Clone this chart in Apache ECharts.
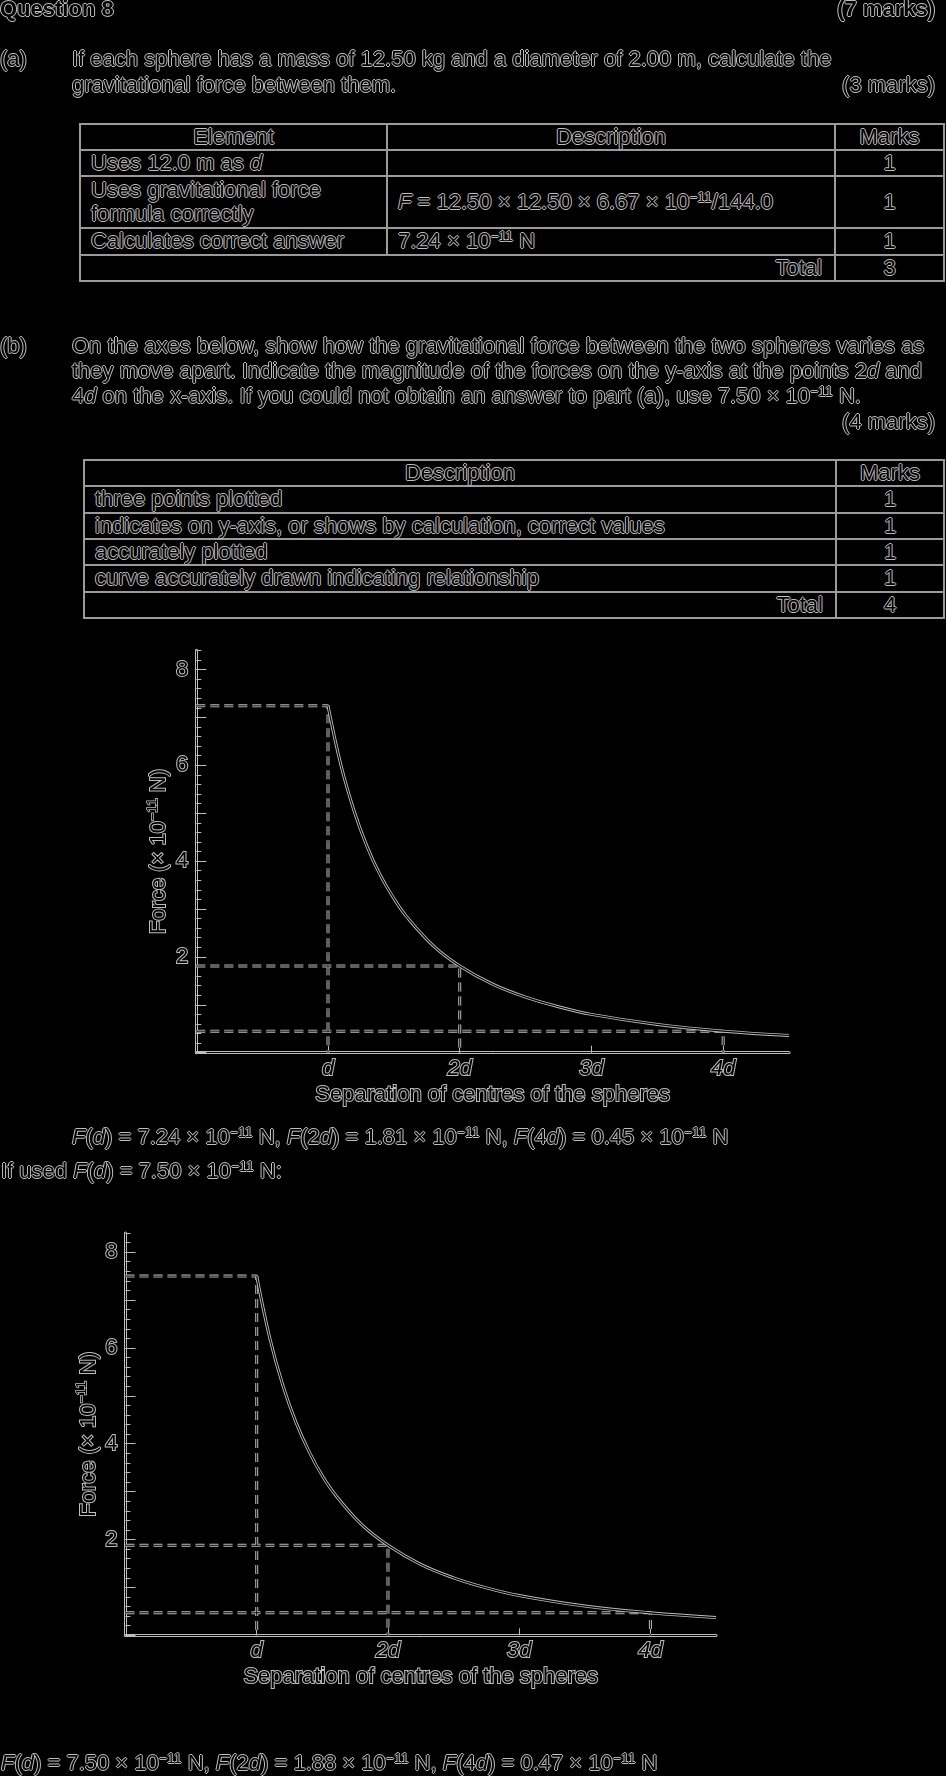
<!DOCTYPE html>
<html><head><meta charset="utf-8">
<script src="https://cdn.jsdelivr.net/npm/echarts@6/dist/echarts.min.js"></script>
<style>
html,body{margin:0;padding:0;background:#000;}
body{width:946px;height:1776px;position:relative;overflow:hidden;font-family:'Liberation Sans',Arial,sans-serif;font-size:22px;line-height:26px;color:#000;
  text-shadow:1px 0 0 #bdbdbd,-1px 0 0 #bdbdbd,0 1px 0 #bdbdbd,0 -1px 0 #bdbdbd;}
#chart{position:absolute;left:0;top:0;width:946px;height:1776px;}
.t{position:absolute;white-space:nowrap;}
.b{font-weight:bold;}
sup{font-size:14px;line-height:0;vertical-align:7px;}
.tbl{position:absolute;display:grid;gap:2px;padding:2px;background:#9a9a9a;box-sizing:border-box;}
.tbl>div{background:#000;display:flex;align-items:center;padding:0 10px;line-height:24.5px;white-space:nowrap;}
.tbl>div.c{justify-content:center;}
.tbl>div.rt{justify-content:flex-end;padding-right:12px;}
</style></head>
<body>
<div id="chart"></div>

<div class="t b" style="left:0;top:-3.9px">Question 8</div>
<div class="t b" style="right:11px;top:-3.9px">(7 marks)</div>

<div class="t" style="left:0;top:46.1px">(a)</div>
<div class="t" style="left:72px;top:46.1px">If each sphere has a mass of 12.50 kg and a diameter of 2.00 m, calculate the</div>
<div class="t" style="left:72px;top:72.1px">gravitational force between them.</div>
<div class="t" style="right:11px;top:72.1px">(3 marks)</div>

<div class="tbl" style="left:79px;top:123px;width:866px;height:159px;grid-template-columns:305px 446px 107px;grid-template-rows:24px 24px 50px 25px 24px;">
  <div class="c"><span>Element</span></div>
  <div class="c"><span>Description</span></div>
  <div class="c"><span>Marks</span></div>
  <div><span>Uses 12.0 m as <i>d</i></span></div>
  <div><span></span></div>
  <div class="c"><span>1</span></div>
  <div><span>Uses gravitational force<br>formula correctly</span></div>
  <div><span><i>F</i> = 12.50 × 12.50 × 6.67 × 10<sup>−11</sup>/144.0</span></div>
  <div class="c"><span>1</span></div>
  <div><span>Calculates correct answer</span></div>
  <div><span>7.24 × 10<sup>−11</sup> N</span></div>
  <div class="c"><span>1</span></div>
  <div class="rt" style="grid-column:1 / span 2"><span>Total</span></div>
  <div class="c"><span>3</span></div>
</div>

<div class="t" style="left:0;top:333.4px">(b)</div>
<div class="t" style="left:72px;top:333.4px">On the axes below, show how the gravitational force between the two spheres varies as</div>
<div class="t" style="left:72px;top:357.9px">they move apart. Indicate the magnitude of the forces on the y-axis at the points 2<i>d</i> and</div>
<div class="t" style="left:72px;top:383.4px">4<i>d</i> on the x-axis. If you could not obtain an answer to part (a), use 7.50 × 10<sup>−11</sup> N.</div>
<div class="t" style="right:11px;top:408.9px">(4 marks)</div>

<div class="tbl" style="left:83px;top:459px;width:862px;height:160px;grid-template-columns:750px 106px;grid-template-rows:24px 25px 24px 24px 25px 24px;">
  <div class="c"><span>Description</span></div>
  <div class="c"><span>Marks</span></div>
  <div><span>three points plotted</span></div>
  <div class="c"><span>1</span></div>
  <div><span>indicates on y-axis, or shows by calculation, correct values</span></div>
  <div class="c"><span>1</span></div>
  <div><span>accurately plotted</span></div>
  <div class="c"><span>1</span></div>
  <div><span>curve accurately drawn indicating relationship</span></div>
  <div class="c"><span>1</span></div>
  <div class="rt"><span>Total</span></div>
  <div class="c"><span>4</span></div>
</div>

<div class="t" style="left:72px;top:1124.4px"><i>F</i>(<i>d</i>) = 7.24 × 10<sup>−11</sup> N, <i>F</i>(2<i>d</i>) = 1.81 × 10<sup>−11</sup> N, <i>F</i>(4<i>d</i>) = 0.45 × 10<sup>−11</sup> N</div>
<div class="t" style="left:1px;top:1158.4px">If used <i>F</i>(<i>d</i>) = 7.50 × 10<sup>−11</sup> N:</div>
<div class="t" style="left:1px;top:1750.4px"><i>F</i>(<i>d</i>) = 7.50 × 10<sup>−11</sup> N, <i>F</i>(2<i>d</i>) = 1.88 × 10<sup>−11</sup> N, <i>F</i>(4<i>d</i>) = 0.47 × 10<sup>−11</sup> N</div>

<script>
// ---- data ----
const yMajorTicks = [0, 1, 2, 3, 4, 5, 6, 7, 8];
const yLabelTicks = [2, 4, 6, 8];
const xTickValues = [1, 2, 3, 4];
const xTickLabels = ['d', '2d', '3d', '4d'];
const sepValues   = [1, 1.1, 1.2, 1.3, 1.4, 1.5, 1.6, 1.8, 2, 2.25, 2.5, 2.75, 3, 3.5, 4, 4.5];
const forceTop    = [7.24, 5.98, 5.03, 4.28, 3.69, 3.22, 2.83, 2.23, 1.81, 1.43, 1.16, 0.96, 0.80, 0.59, 0.45, 0.36];
const forceBottom = [7.50, 6.20, 5.21, 4.44, 3.83, 3.33, 2.93, 2.31, 1.88, 1.48, 1.20, 0.99, 0.83, 0.61, 0.47, 0.37];
const markSep     = [1, 2, 4];
const markTop     = [7.24, 1.81, 0.45];
const markBottom  = [7.50, 1.88, 0.47];
const xMax = 4.5;
const yMax = 8.4;

// ---- styling / layout ----
const OUT = '#bdbdbd', CORE = '#000000';
const txt = {color: '#000', fontFamily: 'Liberation Sans', fontSize: 22, textBorderColor: OUT, textBorderWidth: 2};
const grids = [
  {left: 196.3, top: 650.3, width: 592.7, height: 402.4},
  {left: 125.5, top: 1233, width: 590.5, height: 402.3}
];
const groups = [
  {force: forceTop, mark: markTop},
  {force: forceBottom, mark: markBottom}
];

const xAxes = [], yAxes = [], series = [];

function lineSeries(ai, data, color, width, dash, smooth) {
  return {
    type: 'line', xAxisIndex: ai, yAxisIndex: ai, data: data,
    symbol: 'none', showSymbol: false, silent: true, animation: false,
    smooth: smooth || false,
    lineStyle: {color: color, width: width, type: dash || 'solid'}
  };
}

grids.forEach((gr, g) => {
  xAxes.push({
    gridIndex: g, type: 'value', min: 0, max: xMax, position: 'bottom',
    axisLine: {show: true, onZero: false, lineStyle: {color: OUT, width: 3}},
    axisTick: {show: true, inside: true, length: 7, customValues: xTickValues, lineStyle: {color: OUT, width: 1}},
    axisLabel: Object.assign({}, txt, {
      customValues: xTickValues, margin: 5, fontStyle: 'italic',
      formatter: v => { const i = xTickValues.indexOf(v); return i >= 0 ? xTickLabels[i] : ''; }
    }),
    splitLine: {show: false},
    name: 'Separation of centres of the spheres', nameLocation: 'middle', nameGap: 31,
    nameMoveOverlap: false,
    nameTextStyle: Object.assign({}, txt)
  });
  xAxes.push({
    gridIndex: g, type: 'value', min: 0, max: xMax, position: 'bottom',
    axisLine: {show: true, onZero: false, lineStyle: {color: CORE, width: 1}},
    axisTick: {show: false}, axisLabel: {show: false}, splitLine: {show: false}
  });
  yAxes.push({
    gridIndex: g, type: 'value', min: 0, max: yMax, position: 'left',
    axisLine: {show: true, onZero: false, lineStyle: {color: OUT, width: 3}},
    axisTick: {show: true, inside: true, length: 10, customValues: yMajorTicks, lineStyle: {color: OUT, width: 1}},
    axisLabel: Object.assign({}, txt, {customValues: yLabelTicks, margin: 8}),
    splitLine: {show: false},
    name: '{t|Force (× 10}{s|−11}{t| N)}', nameLocation: 'middle', nameGap: 24, nameRotate: 90,
    nameMoveOverlap: false,
    nameTextStyle: {
      rich: {
        t: Object.assign({}, txt, {lineHeight: 26}),
        s: Object.assign({}, txt, {fontSize: 14, textBorderWidth: 1.6, verticalAlign: 'top', lineHeight: 14})
      }
    }
  });
  yAxes.push({
    gridIndex: g, type: 'value', min: 0, max: yMax, interval: 0.2, position: 'left',
    axisLine: {show: true, onZero: false, lineStyle: {color: CORE, width: 1}},
    axisTick: {show: true, inside: true, length: 5, lineStyle: {color: OUT, width: 1}},
    axisLabel: {show: false}, splitLine: {show: false}
  });

  const ai = 2 * g;
  const grp = groups[g];
  const guides = markSep.map((x, i) => [[0, grp.mark[i]], [x, grp.mark[i]], [x, 0]]);
  guides.forEach(p => series.push(lineSeries(ai, p, OUT, 3, [9, 5])));
  guides.forEach(p => series.push(lineSeries(ai, p, CORE, 1, [9, 5])));
  const curve = sepValues.map((x, i) => [x, grp.force[i]]);
  series.push(lineSeries(ai, curve, OUT, 3, 'solid', 0.4));
  series.push(lineSeries(ai, curve, CORE, 1.2, 'solid', 0.4));
});

const chart = echarts.init(document.getElementById('chart'), null, {renderer: 'canvas'});
chart.setOption({
  backgroundColor: 'transparent',
  animation: false,
  grid: grids.map(g => Object.assign({outerBoundsMode: 'none', containLabel: false}, g)),
  xAxis: xAxes,
  yAxis: yAxes,
  series: series
});
</script>
</body></html>
